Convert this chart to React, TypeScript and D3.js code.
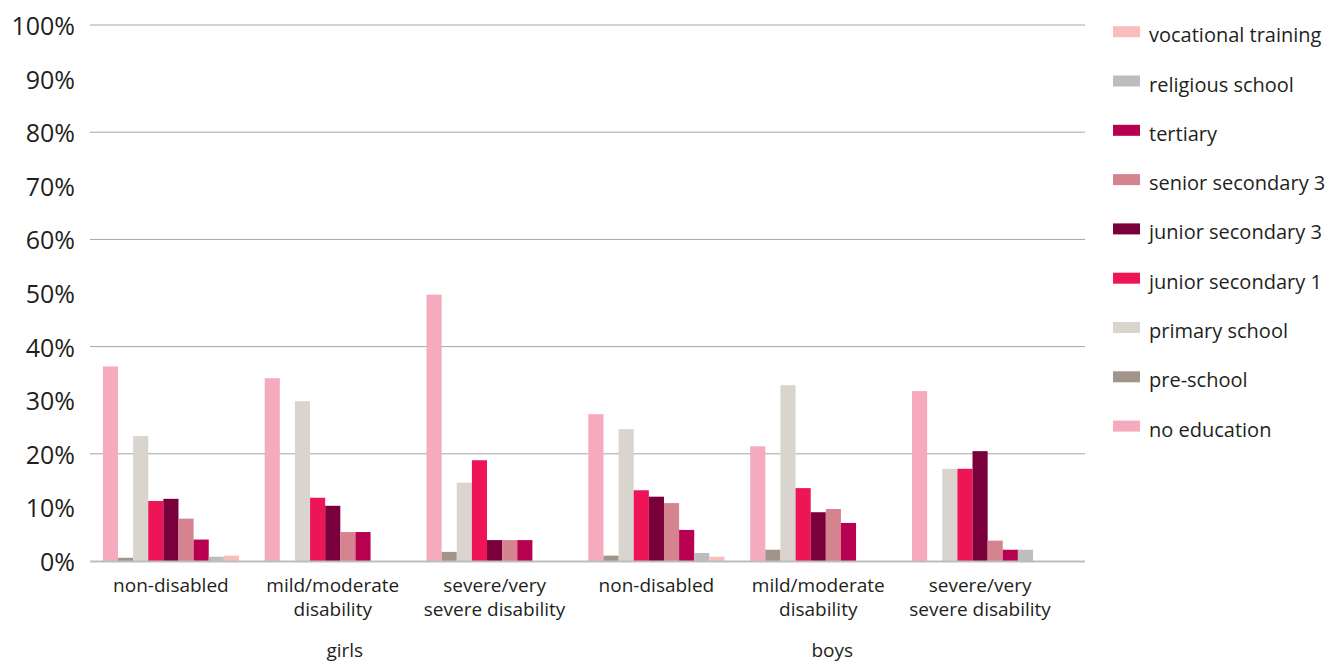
import React from "react";
import * as d3 from "d3";

const categories = [
  "girls|non-disabled",
  "girls|mild/moderate disability",
  "girls|severe/very severe disability",
  "boys|non-disabled",
  "boys|mild/moderate disability",
  "boys|severe/very severe disability",
];
const categoryLines = [
  ["non-disabled"],
  ["mild/moderate", "disability"],
  ["severe/very", "severe disability"],
  ["non-disabled"],
  ["mild/moderate", "disability"],
  ["severe/very", "severe disability"],
];
const groupLabels = ["girls", "boys"];

const seriesNames = [
  "no education",
  "pre-school",
  "primary school",
  "junior secondary 1",
  "junior secondary 3",
  "senior secondary 3",
  "tertiary",
  "religious school",
  "vocational training",
];
const seriesColors = [
  "#f6aabd",
  "#a39489",
  "#d9d4ce",
  "#ed1556",
  "#7a003c",
  "#d5838f",
  "#b7004f",
  "#bcbdc1",
  "#f9bdbb",
];

const noEducation = [36.3, 34.1, 49.7, 27.4, 21.4, 31.7];
const preSchool = [0.6, 0, 1.7, 1.0, 2.1, 0];
const primarySchool = [23.3, 29.8, 14.6, 24.6, 32.8, 17.2];
const juniorSecondary1 = [11.2, 11.8, 18.8, 13.2, 13.6, 17.2];
const juniorSecondary3 = [11.6, 10.3, 3.9, 12.0, 9.1, 20.5];
const seniorSecondary3 = [7.9, 5.4, 3.9, 10.8, 9.7, 3.8];
const tertiary = [4.0, 5.4, 3.9, 5.8, 7.1, 2.1];
const religiousSchool = [0.8, 0, 0, 1.5, 0, 2.1];
const vocationalTraining = [1.0, 0, 0, 0.8, 0, 0];

const seriesValues = [
  noEducation,
  preSchool,
  primarySchool,
  juniorSecondary1,
  juniorSecondary3,
  seniorSecondary3,
  tertiary,
  religiousSchool,
  vocationalTraining,
];

const yTicks = [0, 10, 20, 30, 40, 50, 60, 70, 80, 90, 100];
const gridTicks = [20, 40, 60, 80, 100];

const FONT = "'Open Sans', 'Noto Sans', sans-serif";
const TEXT = "#231f20";

export default function App() {
  const W = 1339;
  const H = 664;
  const plotLeft = 90;
  const plotRight = 1085;

  const y = d3.scaleLinear().domain([0, 100]).range([561, 25]);
  const x0 = d3.scaleBand<string>().domain(categories).range([90, 1061]).padding(0);
  const x1 = d3
    .scaleBand<string>()
    .domain(seriesNames)
    .range([0, x0.bandwidth()])
    .paddingInner(0)
    .paddingOuter(0.85);

  const legendOrder = seriesNames.map((_, i) => i).reverse();

  return (
    <div style={{ position: "absolute", left: 0, top: 0 }}>
      <svg width={W} height={H} style={{ display: "block", background: "#fff" }}>
        {/* gridlines */}
        {gridTicks.map((t) => (
          <line
            key={t}
            x1={plotLeft}
            x2={plotRight}
            y1={y(t)}
            y2={y(t)}
            stroke="#a6a6a6"
            strokeWidth={1}
          />
        ))}
        {/* y labels */}
        {yTicks.map((t) => (
          <text
            key={t}
            x={75}
            y={y(t)}
            textAnchor="end"
            dominantBaseline="central"
            fontFamily={FONT}
            fontSize={25}
            fill={TEXT}
          >
            {t}%
          </text>
        ))}
        {/* bars */}
        {categories.map((c, ci) => (
          <g key={c} transform={`translate(${x0(c)},0)`}>
            {seriesNames.map((s, si) => {
              const v = seriesValues[si][ci];
              if (!v) return null;
              return (
                <rect
                  key={s}
                  x={x1(s)}
                  y={y(v)}
                  width={x1.bandwidth()}
                  height={y(0) - y(v)}
                  fill={seriesColors[si]}
                />
              );
            })}
          </g>
        ))}
        {/* baseline */}
        <line
          x1={plotLeft}
          x2={plotRight}
          y1={y(0) + 0.5}
          y2={y(0) + 0.5}
          stroke="#bdbdbd"
          strokeWidth={2}
        />
        {/* category labels */}
        {categories.map((c, ci) => (
          <text
            key={c}
            x={(x0(c) as number) + x0.bandwidth() / 2}
            y={585}
            textAnchor="middle"
            fontFamily={FONT}
            fontSize={19}
            fill={TEXT}
          >
            {categoryLines[ci].map((line, li) => (
              <tspan key={li} x={(x0(c) as number) + x0.bandwidth() / 2} dy={li === 0 ? 7 : 24}>
                {line}
              </tspan>
            ))}
          </text>
        ))}
        {/* group labels */}
        {groupLabels.map((g, gi) => {
          const mid = categories[gi * 3 + 1];
          const cx = (x0(mid) as number) + x0.bandwidth() / 2 + (gi === 0 ? 12 : 14);
          return (
            <text
              key={g}
              x={cx}
              y={657}
              textAnchor="middle"
              fontFamily={FONT}
              fontSize={19}
              fill={TEXT}
            >
              {g}
            </text>
          );
        })}
        {/* legend */}
        {legendOrder.map((si, k) => {
          const cy = 31.7 + 49.3 * k;
          return (
            <g key={seriesNames[si]}>
              <rect x={1113} y={cy - 5.5} width={27} height={11} fill={seriesColors[si]} />
              <text
                x={1149}
                y={cy + 3}
                dominantBaseline="central"
                fontFamily={FONT}
                fontSize={20}
                fill={TEXT}
              >
                {seriesNames[si]}
              </text>
            </g>
          );
        })}
      </svg>
    </div>
  );
}
